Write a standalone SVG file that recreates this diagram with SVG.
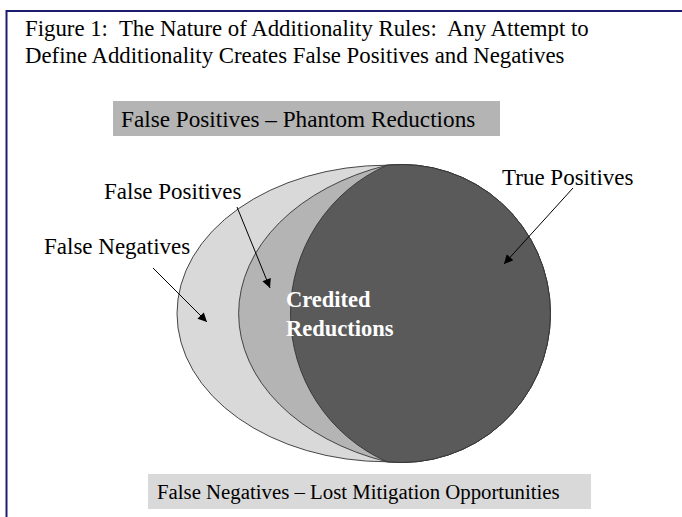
<svg xmlns="http://www.w3.org/2000/svg" width="682" height="517" viewBox="0 0 682 517">
<style>
text{font-family:"Liberation Serif","Times New Roman",serif;fill:#000;white-space:pre}
.ti{font-size:22.8px}
.t{font-size:23px}
.tb{font-size:23.2px}
.bb{font-size:20.8px}
.cr{font-size:22.5px;font-weight:bold;fill:#fff}
.sh{stroke:#333;stroke-width:0.9}
.ar{stroke:#000;stroke-width:1;fill:none;marker-end:url(#ah)}
</style>
<defs>
<marker id="ah" viewBox="0 0 10 10" refX="10" refY="5" markerWidth="11" markerHeight="9" markerUnits="userSpaceOnUse" orient="auto">
<path d="M0,0 L10,5 L0,10 Z" fill="#000"/>
</marker>
</defs>
<rect width="682" height="517" fill="#fff"/>
<g id="frame">
<path d="M682,11 H6.5 V517" fill="none" stroke="#1c1c6e" stroke-width="2"/>
</g>
<g id="title">
<text class="ti" x="25" y="36" xml:space="preserve">Figure 1:  The Nature of Additionality Rules:  Any Attempt to</text>
<text class="ti" x="25" y="63">Define Additionality Creates False Positives and Negatives</text>
</g>
<g id="top-box">
<rect x="113" y="101" width="387" height="35" fill="#b4b4b4"/>
<text class="tb" x="121" y="127">False Positives – Phantom Reductions</text>
</g>
<g id="false-negatives-region">
<path class="sh" fill="#d9d9d9" d="M387,165.2 A210,148.3 0 0 0 387,461.8 A149,149 0 1 0 387,165.2 Z"/>
</g>
<g id="false-positives-region">
<path class="sh" fill="#b4b4b4" d="M387,165.2 A222,157.2 0 0 0 387,461.8 A149,149 0 1 0 387,165.2 Z"/>
</g>
<g id="true-positives-region">
<path class="sh" fill="#5a5a5a" d="M387,165.2 A162.2,162.2 0 0 0 387,461.8 A149,149 0 1 0 387,165.2 Z"/>
<text class="cr" x="286" y="307">Credited</text>
<text class="cr" x="286" y="336">Reductions</text>
</g>
<g id="label-false-positives">
<text class="t" x="104" y="199">False Positives</text>
</g>
<g id="label-false-negatives">
<text class="t" x="44" y="254">False Negatives</text>
</g>
<g id="label-true-positives">
<text class="t" x="502" y="185">True Positives</text>
</g>
<g id="connectors">
<line class="ar" x1="237" y1="207" x2="270" y2="288"/>
<line class="ar" x1="153" y1="268" x2="207" y2="322"/>
<line class="ar" x1="573" y1="188" x2="504" y2="264"/>
</g>
<g id="bottom-box">
<rect x="148" y="474" width="443" height="35" fill="#d9d9d9"/>
<text class="bb" x="157" y="499">False Negatives – Lost Mitigation Opportunities</text>
</g>
</svg>
